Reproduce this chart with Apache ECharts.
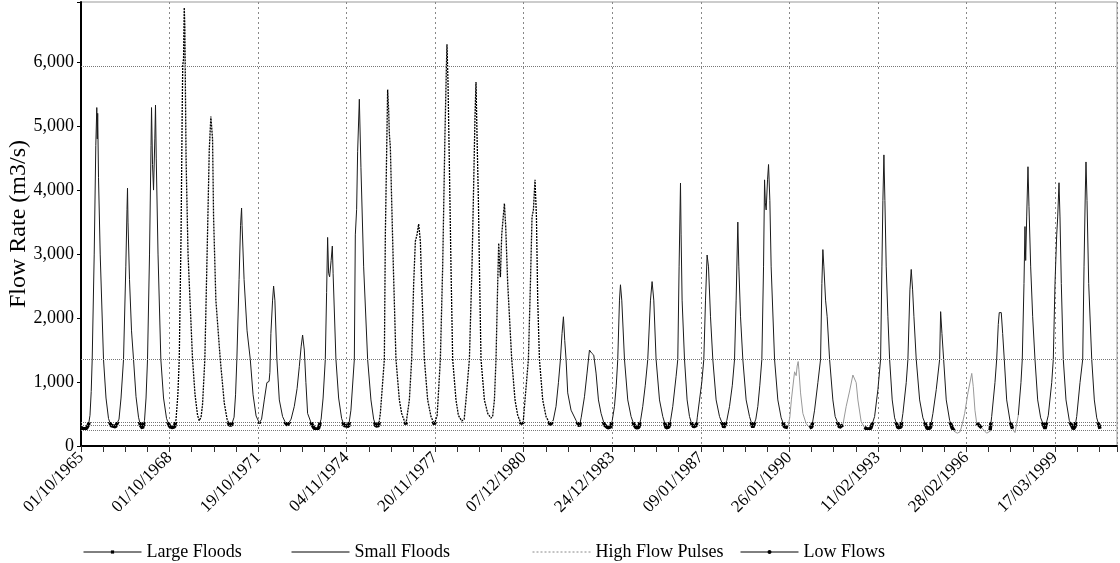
<!DOCTYPE html>
<html>
<head>
<meta charset="UTF-8">
<title>Flow Rate</title>
<script src="https://cdn.jsdelivr.net/npm/echarts/dist/echarts.min.js"></script>
<style>
  html, body { margin: 0; padding: 0; background: #fff; }
  #main { width: 1120px; height: 563px; }
</style>
</head>
<body>
<div id="main"></div>
<script>
  // tick labels shown under the x axis, one per major tick
  var tickLabels = ['01/10/1965', '01/10/1968', '19/10/1971', '04/11/1974', '20/11/1977', '07/12/1980',
    '24/12/1983', '09/01/1987', '26/01/1990', '11/02/1993', '28/02/1996', '17/03/1999'];

  // hydrograph: time as decimal year, flow in m3/s
  var dates = [
    1965.750, 1965.836, 1965.939, 1966.008,
    1966.059, 1966.101, 1966.135, 1966.204, 1966.259, 1966.293, 1966.310, 1966.324, 1966.352, 1966.410, 1966.524, 1966.610, 1966.696, 1966.782, 1966.833, 1966.936,
    1967.057, 1967.126, 1967.212, 1967.291, 1967.332, 1967.349, 1967.366, 1967.418, 1967.487, 1967.556, 1967.642, 1967.728, 1967.796, 1967.865,
    1967.934, 1967.986, 1968.037, 1968.106, 1968.158, 1968.175, 1968.209, 1968.244, 1968.288, 1968.312, 1968.337, 1968.398, 1968.495, 1968.588, 1968.691, 1968.794, 1968.873, 1968.966,
    1969.018, 1969.080, 1969.128, 1969.190, 1969.231, 1969.248, 1969.276, 1969.300, 1969.320, 1969.362, 1969.430, 1969.585, 1969.671, 1969.757, 1969.816,
    1969.878, 1969.929, 1970.008, 1970.101, 1970.160, 1970.215, 1970.273, 1970.308, 1970.387, 1970.538, 1970.676, 1970.772, 1970.848, 1970.927,
    1971.013, 1971.064, 1971.109, 1971.185, 1971.236, 1971.271, 1971.288, 1971.357, 1971.460, 1971.570, 1971.666, 1971.770, 1971.880, 1971.959,
    1972.052, 1972.141, 1972.217, 1972.244, 1972.279, 1972.337, 1972.372, 1972.416, 1972.485, 1972.568, 1972.681, 1972.784, 1972.853,
    1972.974, 1973.084, 1973.180, 1973.256, 1973.318, 1973.369, 1973.428, 1973.483, 1973.541, 1973.655, 1973.748, 1973.827, 1973.920,
    1974.006, 1974.074, 1974.150, 1974.195, 1974.229, 1974.264, 1974.298, 1974.350, 1974.391, 1974.418, 1974.515, 1974.608, 1974.711, 1974.797, 1974.859, 1974.952,
    1975.031, 1975.148, 1975.182, 1975.227, 1975.261, 1975.320, 1975.375, 1975.468, 1975.605, 1975.719, 1975.812, 1975.891, 1975.984,
    1976.042, 1976.121, 1976.180, 1976.214, 1976.259, 1976.293, 1976.328, 1976.352, 1976.386, 1976.431, 1976.489, 1976.579, 1976.696, 1976.775, 1976.844, 1976.923,
    1977.040, 1977.119, 1977.188, 1977.246, 1977.301, 1977.360, 1977.418, 1977.463, 1977.556, 1977.669, 1977.783, 1977.900,
    1977.996, 1978.106, 1978.185, 1978.264, 1978.313, 1978.333, 1978.368, 1978.416, 1978.471, 1978.529, 1978.643, 1978.725, 1978.839, 1978.925,
    1978.987, 1979.104, 1979.193, 1979.252, 1979.296, 1979.331, 1979.365, 1979.413, 1979.458, 1979.503, 1979.620, 1979.733, 1979.847, 1979.905,
    1979.964, 1980.019, 1980.077, 1980.112, 1980.146, 1980.170, 1980.215, 1980.273, 1980.308, 1980.352, 1980.421, 1980.559, 1980.672, 1980.765, 1980.879, 1980.954,
    1981.016, 1981.133, 1981.202, 1981.257, 1981.305, 1981.360, 1981.409, 1981.453, 1981.512, 1981.625, 1981.739, 1981.890,
    1981.986, 1982.083, 1982.165, 1982.234, 1982.289, 1982.337, 1982.382, 1982.427, 1982.485, 1982.599, 1982.771, 1982.888,
    1982.950, 1983.060, 1983.149, 1983.232, 1983.311, 1983.380, 1983.459, 1983.541, 1983.631, 1983.748, 1983.861, 1983.964,
    1984.016, 1984.092, 1984.154, 1984.205, 1984.264, 1984.298, 1984.343, 1984.436, 1984.549, 1984.663, 1984.756, 1984.835, 1984.928,
    1984.996, 1985.065, 1985.151, 1985.237, 1985.330, 1985.385, 1985.444, 1985.523, 1985.640, 1985.753, 1985.867, 1985.960,
    1986.028, 1986.097, 1986.211, 1986.269, 1986.314, 1986.362, 1986.383, 1986.417, 1986.500, 1986.589, 1986.672, 1986.751, 1986.820, 1986.906,
    1986.940, 1987.016, 1987.095, 1987.164, 1987.222, 1987.277, 1987.325, 1987.394, 1987.473, 1987.587, 1987.704, 1987.852,
    1987.955, 1988.048, 1988.144, 1988.220, 1988.275, 1988.333, 1988.368, 1988.426, 1988.505, 1988.619, 1988.736, 1988.849,
    1988.952, 1989.021, 1989.090, 1989.159, 1989.217, 1989.252, 1989.279, 1989.307, 1989.355, 1989.389, 1989.434, 1989.479, 1989.596, 1989.709, 1989.823, 1989.940, 1990.053,
    1990.122, 1990.174, 1990.284, 1990.339, 1990.373, 1990.408, 1990.432, 1990.490, 1990.569, 1990.683, 1990.800, 1990.879,
    1990.972, 1991.085, 1991.178, 1991.223, 1991.257, 1991.292, 1991.350, 1991.405, 1991.488, 1991.601, 1991.680, 1991.832,
    1991.945, 1992.059, 1992.176, 1992.289, 1992.403, 1992.461, 1992.575, 1992.685, 1992.805, 1992.908,
    1993.036, 1993.149, 1993.242, 1993.287, 1993.321, 1993.356, 1993.390, 1993.435, 1993.493, 1993.552, 1993.641, 1993.724, 1993.837, 1993.940,
    1994.009, 1994.123, 1994.181, 1994.250, 1994.295, 1994.343, 1994.388, 1994.467, 1994.584, 1994.697, 1994.845, 1994.955,
    1995.041, 1995.155, 1995.272, 1995.306, 1995.351, 1995.409, 1995.499, 1995.616, 1995.695, 1995.788, 1995.877, 1995.970,
    1996.039, 1996.132, 1996.245, 1996.376, 1996.428, 1996.486, 1996.545, 1996.717, 1996.889, 1997.002,
    1997.061, 1997.174, 1997.233, 1997.288, 1997.322, 1997.391, 1997.439, 1997.494, 1997.577, 1997.690, 1997.776, 1997.862, 1997.914,
    1997.976, 1998.068, 1998.113, 1998.172, 1998.206, 1998.230, 1998.265, 1998.309, 1998.344, 1998.402, 1998.471, 1998.550, 1998.643, 1998.746, 1998.894, 1998.950,
    1999.008, 1999.125, 1999.180, 1999.238, 1999.297, 1999.331, 1999.376, 1999.410, 1999.455, 1999.524, 1999.616, 1999.730, 1999.868, 1999.925,
    1999.985, 2000.098, 2000.191, 2000.236, 2000.280, 2000.304, 2000.339, 2000.397, 2000.501, 2000.590, 2000.673, 2000.786
  ];
  var flows = [
    290, 265, 275, 330,
    480, 850, 1355, 3000, 4700, 5290, 4800, 5200, 4200, 3000, 1355, 750, 430, 320, 290, 300,
    420, 750, 1355, 2800, 3700, 4030, 3500, 2600, 1800, 1355, 770, 450, 320, 280,
    400, 750, 1355, 3000, 4700, 5290, 4400, 4000, 4800, 5330, 4500, 3000, 1355, 750, 430, 310, 290, 300,
    420, 800, 1355, 3300, 5300, 5950, 6050, 6850, 6550, 4500, 3000, 1355, 800, 480, 395,
    450, 650, 1355, 3330, 4625, 5150, 4800, 3580, 2280, 1355, 670, 420, 330, 330,
    450, 800, 1355, 2600, 3450, 3720, 3450, 2600, 1800, 1355, 800, 470, 360, 420,
    720, 990, 1010, 1150, 1760, 2280, 2500, 2280, 1355, 720, 460, 360, 330,
    420, 620, 900, 1240, 1550, 1735, 1500, 990, 510, 370, 290, 255, 280,
    420, 750, 1355, 2400, 3260, 2700, 2645, 2900, 3125, 2700, 1355, 750, 430, 320, 300, 310,
    560, 1355, 3300, 3700, 4600, 5420, 4350, 2800, 1355, 720, 420, 310, 320,
    510, 990, 1355, 3300, 4600, 5570, 5250, 4880, 4670, 3840, 2800, 1355, 720, 510, 420, 340,
    720, 1355, 2540, 3200, 3300, 3470, 3200, 2540, 1355, 720, 460, 340,
    480, 1355, 2800, 4880, 5920, 6280, 5690, 4370, 2800, 1355, 720, 480, 390, 420,
    720, 1355, 2800, 4110, 5150, 5690, 4880, 3840, 2540, 1355, 720, 510, 435, 470,
    720, 1355, 2540, 3170, 2800, 2640, 3300, 3610, 3790, 3430, 2540, 1355, 720, 480, 350, 370,
    720, 1355, 2540, 3580, 3690, 4160, 3580, 2280, 1355, 720, 460, 330,
    400, 620, 990, 1355, 1760, 2020, 1650, 1355, 830, 560, 400, 310,
    450, 770, 1140, 1500, 1450, 1420, 1140, 720, 510, 330, 285, 300,
    400, 620, 950, 1355, 2280, 2520, 2280, 1355, 720, 460, 340, 285, 290,
    420, 620, 950, 1355, 2280, 2570, 2280, 1355, 720, 460, 285, 295,
    420, 620, 1090, 1355, 2800, 4110, 3300, 2280, 1355, 720, 460, 340, 300, 320,
    450, 720, 1000, 1355, 2280, 2985, 2800, 2020, 1355, 720, 460, 290,
    400, 620, 950, 1355, 2280, 3500, 2800, 2020, 1355, 720, 460, 290,
    420, 620, 950, 1355, 2800, 4160, 3800, 3690, 4160, 4400, 3840, 2800, 1355, 720, 440, 300, 290,
    450, 720, 1160, 1100, 1250, 1320, 1200, 830, 510, 350, 285, 300,
    560, 990, 1355, 2540, 3070, 2800, 2280, 2020, 1355, 720, 460, 290,
    330, 620, 860, 1110, 990, 720, 380, 290, 260, 280,
    460, 880, 1355, 2800, 3840, 4550, 3840, 2800, 2020, 1355, 720, 440, 285, 295,
    510, 990, 1355, 2440, 2760, 2440, 2020, 1355, 720, 440, 270, 285,
    510, 880, 1355, 2100, 1760, 1355, 720, 400, 290, 225, 200, 220,
    320, 510, 830, 1135, 930, 560, 360, 285, 200, 230,
    460, 990, 1355, 1900, 2085, 2085, 1760, 1355, 720, 400, 270, 210, 240,
    480, 990, 1355, 2540, 3430, 2900, 3580, 4365, 3740, 2800, 2020, 1355, 720, 440, 270, 300,
    480, 990, 1355, 2540, 3300, 3580, 4115, 3580, 2540, 1355, 720, 400, 265, 300,
    460, 990, 1355, 2800, 3970, 4440, 3840, 2540, 1355, 720, 440, 270
  ];

  // horizontal threshold lines (m3/s)
  var thresholds = [5930, 1355, 375, 317, 250];
  // periods drawn as large floods and as high flow pulses (decimal years)
  var largeFloodSpans = [[1968.95, 1970.88], [1975.98, 1981.95]];
  var pulseSpans = [[1990.05, 1990.81], [1991.90, 1992.70], [1995.79, 1996.55], [1996.72, 1997.02], [1997.80, 1997.96]];

  var START = 1965.75;   // 01/10/1965
  var STEP = 3.0444;     // years between labelled ticks
  var X_MAX = 35.62;
  var FONT = 'Liberation Serif';

  function inSpan(spans, t) {
    for (var k = 0; k < spans.length; k++) {
      if (t >= spans[k][0] && t <= spans[k][1]) return true;
    }
    return false;
  }

  function segKind(i) {
    var mid = (dates[i] + dates[i + 1]) / 2;
    if (inSpan(pulseSpans, mid)) return 'pulse';
    if (inSpan(largeFloodSpans, mid)) return 'large';
    return 'small';
  }

  // collect the segments that pass the test, with a null gap between runs
  function buildLine(test) {
    var out = [];
    var last = -2;
    for (var i = 0; i < dates.length - 1; i++) {
      if (!test(i)) continue;
      if (last !== i - 1) {
        if (out.length) out.push([dates[i] - START, null]);
        out.push([dates[i] - START, flows[i]]);
      }
      out.push([dates[i + 1] - START, flows[i + 1]]);
      last = i;
    }
    return out;
  }

  var largeData = buildLine(function (i) { return segKind(i) === 'large'; });
  var smallData = buildLine(function (i) { return segKind(i) === 'small'; });
  var pulseData = buildLine(function (i) { return segKind(i) === 'pulse'; });
  var lowData = buildLine(function (i) { return segKind(i) !== 'pulse'; });

  var legendText = { color: '#000', fontSize: 18, fontFamily: FONT };
  var noMark = { color: 'rgba(0,0,0,0)', borderWidth: 0 };

  var myChart = echarts.init(document.getElementById('main'));
  var option = {
    animation: false,
    textStyle: { fontFamily: FONT },
    grid: {
      left: 81, right: 3, top: 2, bottom: 117,
      show: true, borderColor: '#999', borderWidth: 1,
      containLabel: false, outerBoundsMode: 'none'
    },
    legend: [
      {
        data: ['Large Floods'], left: 78, top: 538, selectedMode: false,
        itemWidth: 58, itemHeight: 4, textStyle: legendText,
        lineStyle: { color: '#000', width: 1, type: 'solid' }, itemStyle: { color: '#000' }
      },
      {
        data: ['Small Floods'], left: 286, top: 538, selectedMode: false,
        itemWidth: 58, itemHeight: 4, textStyle: legendText,
        lineStyle: { color: '#000', width: 1, type: 'solid' }, itemStyle: noMark
      },
      {
        data: ['High Flow Pulses'], left: 527, top: 538, selectedMode: false,
        itemWidth: 58, itemHeight: 4, textStyle: legendText,
        lineStyle: { color: '#888', width: 1, type: [2, 2] }, itemStyle: noMark
      },
      {
        data: ['Low Flows'], left: 735, top: 538, selectedMode: false,
        itemWidth: 58, itemHeight: 5, textStyle: legendText,
        lineStyle: { color: '#000', width: 1, type: 'solid' }, itemStyle: { color: '#000' }
      }
    ],
    visualMap: [{
      show: false,
      type: 'piecewise',
      seriesIndex: 3,
      dimension: 1,
      pieces: [
        { lt: 250, color: 'rgba(0,0,0,0)' },
        { gte: 250, lte: 375, color: '#000' },
        { gt: 375, color: 'rgba(0,0,0,0)' }
      ]
    }],
    xAxis: [
      {
        type: 'value', min: 0, max: X_MAX, interval: STEP, position: 'bottom',
        axisLine: { show: true, onZero: false, lineStyle: { color: '#000', width: 2 } },
        axisTick: { show: false },
        axisLabel: {
          rotate: 45, margin: 9, color: '#000', fontSize: 17, fontFamily: FONT,
          formatter: function (v) {
            var idx = Math.round(v / STEP);
            if (Math.abs(v - idx * STEP) < 0.01 && idx < tickLabels.length) return tickLabels[idx];
            return '';
          }
        },
        splitLine: { show: true, lineStyle: { color: '#888', width: 1, type: [2, 3] } }
      },
      {
        // ticks every quarter of a label interval
        type: 'value', min: 0, max: X_MAX, interval: STEP / 4, position: 'bottom',
        axisLine: { show: false },
        axisTick: { show: true, length: 6, lineStyle: { color: '#333', width: 1 } },
        axisLabel: { show: false },
        splitLine: { show: false }
      }
    ],
    yAxis: {
      type: 'value', min: 0, max: 6940, interval: 1000,
      name: 'Flow Rate (m3/s)', nameLocation: 'middle', nameGap: 50, nameMoveOverlap: false,
      nameTextStyle: { color: '#000', fontSize: 24, fontFamily: FONT },
      axisLine: { show: true, lineStyle: { color: '#000', width: 2 } },
      axisTick: { show: true, length: 4, lineStyle: { color: '#000' } },
      axisLabel: {
        color: '#000', fontSize: 18, margin: 7, fontFamily: FONT,
        formatter: function (v) {
          if (v % 1000 !== 0) return '';
          return v === 0 ? '0' : (v / 1000) + ',000';
        }
      },
      splitLine: { show: false }
    },
    series: [
      {
        name: 'Large Floods', type: 'line', data: largeData,
        symbol: 'rect', showSymbol: false, connectNulls: false,
        lineStyle: { color: '#000', width: 1.3, type: [2, 1] }, itemStyle: { color: '#000' },
        z: 3
      },
      {
        name: 'Small Floods', type: 'line', data: smallData,
        symbol: 'none', connectNulls: false,
        lineStyle: { color: '#1a1a1a', width: 1 }, itemStyle: { color: '#000' },
        markLine: {
          silent: true, symbol: ['none', 'none'], animation: false,
          label: { show: false },
          lineStyle: { color: '#777', width: 1, type: [1, 1] },
          data: thresholds.map(function (v) { return { yAxis: v }; })
        },
        z: 2
      },
      {
        name: 'High Flow Pulses', type: 'line', data: pulseData,
        symbol: 'none', connectNulls: false,
        lineStyle: { color: '#999', width: 1 }, itemStyle: { color: '#999' },
        z: 3
      },
      {
        name: 'Low Flows', type: 'line', data: lowData,
        symbol: 'circle', showSymbol: false, connectNulls: false,
        lineStyle: { width: 3.5 }, itemStyle: { color: '#000' },
        z: 4
      }
    ]
  };
  myChart.setOption(option);
</script>
</body>
</html>
